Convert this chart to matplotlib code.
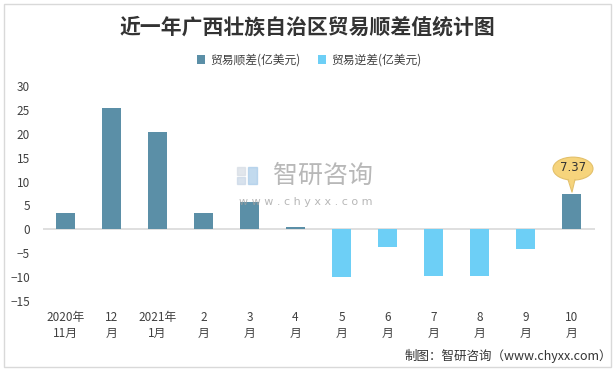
import matplotlib
matplotlib.use("Agg")
import matplotlib.pyplot as plt
import matplotlib.patches as mpatches
import matplotlib.transforms as mtransforms

plt.rcParams['font.family'] = ['Noto Sans CJK SC', 'DejaVu Sans']

title = "近一年广西壮族自治区贸易顺差值统计图"
categories = ["2020年\n11月", "12\n月", "2021年\n1月", "2\n月", "3\n月", "4\n月",
              "5\n月", "6\n月", "7\n月", "8\n月", "9\n月", "10\n月"]
surplus = [3.5, 25.5, 20.4, 3.5, 5.8, 0.4, None, None, None, None, None, 7.37]
deficit = [None, None, None, None, None, None, -10.0, -3.6, -9.7, -9.7, -4.1, None]
series_names = ["贸易顺差(亿美元)", "贸易逆差(亿美元)"]
yticks = [-15, -10, -5, 0, 5, 10, 15, 20, 25, 30]
highlight_label = "7.37"

c_dark = "#5b8fa7"
c_light = "#6dcff6"
txt = "#404040"

W, H = 615, 371
fig = plt.figure(figsize=(W / 100, H / 100), dpi=100)
ax = fig.add_axes([42.5 / W, 1 - 301 / H, (594.5 - 42.5) / W, (301 - 86) / H])

x = list(range(len(categories)))
sx = [i for i, v in zip(x, surplus) if v is not None]
sv = [v for v in surplus if v is not None]
dx = [i for i, v in zip(x, deficit) if v is not None]
dv = [v for v in deficit if v is not None]
bw = 0.42
b1 = ax.bar(sx, sv, width=bw, color=c_dark, label=series_names[0], zorder=2)
b2 = ax.bar(dx, dv, width=bw, color=c_light, label=series_names[1], zorder=2)

ax.set_xlim(-0.5, len(categories) - 0.5)
ax.set_ylim(min(yticks), max(yticks))
ax.set_yticks(yticks)
ax.set_xticks(x)
ax.set_xticklabels(categories, linespacing=1.35)
ax.axhline(0, color="#d9d9d9", lw=1.2, zorder=1)
for s in ax.spines.values():
    s.set_visible(False)
ax.tick_params(axis='both', length=0, labelsize=8.5, labelcolor=txt)
ax.tick_params(axis='y', pad=9)
ax.tick_params(axis='x', pad=7)

# callout for last value
xi = sx[-1]
yv = sv[-1]
off = mtransforms.ScaledTranslation(xi, yv, ax.transData)
pix = mtransforms.Affine2D() + off
fill = "#f6d47c"
edge = "#e3c06a"
ell = mpatches.Ellipse((1.5, 25.5), 40, 23, facecolor=fill, edgecolor=edge, lw=0.8,
                       transform=pix, zorder=5)
ax.add_patch(ell)
tri = mpatches.Polygon([(-3.5, 16), (3.5, 16), (0.5, 2)], closed=True, facecolor=fill,
                       edgecolor='none', transform=pix, zorder=6)
ax.add_patch(tri)
ax.plot([-3.5, 0.5, 3.5], [14.6, 2, 14.6], color=edge, lw=0.8, transform=pix, zorder=6)
ax.text(1.5, 26.5, highlight_label, transform=pix, ha='center', va='center',
        fontsize=8.5, color="#333333", zorder=7, family='DejaVu Sans')

# title and legend
fig.text(307 / W, 1 - 27 / H, title, ha='center', va='center', fontsize=15,
         fontweight='bold', color="#333333")
leg = fig.legend(handles=[b1, b2], loc='center', bbox_to_anchor=(309 / W, 1 - 60 / H),
                 ncol=2, frameon=False, fontsize=8.5, handlelength=0.7, handleheight=0.7,
                 handletextpad=0.4, columnspacing=1.5, labelcolor=txt)

# watermark
fig.patches.append(mpatches.Rectangle((237 / W, 1 - 184 / H), 8 / W, 7 / H,
                                      transform=fig.transFigure, color="#c8d6e6", alpha=0.7))
fig.patches.append(mpatches.Rectangle((248 / W, 1 - 184 / H), 9 / W, 17 / H,
                                      transform=fig.transFigure, color="#a8cbe8", alpha=0.7))
fig.patches.append(mpatches.Rectangle((237 / W, 1 - 175 / H), 8 / W, 8 / H,
                                      transform=fig.transFigure, color="#d5dce4", alpha=0.7))
fig.text(323 / W, 1 - 176 / H, "智研咨询", ha='center', va='center', fontsize=18,
         color="#a0a0a0", alpha=0.75)
fig.text(306 / W, 1 - 202 / H, "w w w . c h y x x . c o m", ha='center', va='center',
         fontsize=8, color="#a0a0a0", alpha=0.75, family='DejaVu Sans')

# footer
fig.text(612 / W, 1 - 356 / H, "制图：智研咨询（www.chyxx.com）", ha='right', va='center',
         fontsize=9, color="#333333")

# border
fig.patches.append(mpatches.Rectangle((4 / W, 4 / H), 607 / W, 363 / H, transform=fig.transFigure,
                                      fill=False, edgecolor="#d9d9d9", lw=1))

fig.savefig("out.png", dpi=100)
